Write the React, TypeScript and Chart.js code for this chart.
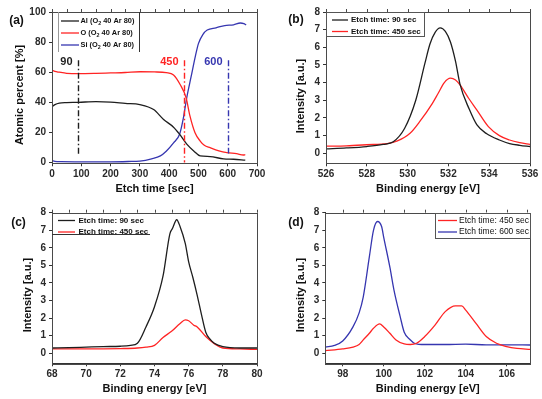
import React, { useEffect, useRef } from "react";
import { Chart, registerables } from "chart.js";

Chart.register(...registerables);

const FONT = '"Liberation Sans", Arial, Helvetica, sans-serif';
const BLACK = "#1e1e1e";
const RED = "#ff2424";
const BLUE = "#3636b0";
const AXIS = "#2a2a2a";

// ---------- (a) depth profile ----------
const etchTicks = [0, 100, 200, 300, 400, 500, 600, 700];
const percentTicks = [0, 20, 40, 60, 80, 100];
const alTime = [0, 10, 25, 50, 90, 150, 200, 250, 300, 347, 381, 415, 436, 461, 484, 506, 540, 586, 620, 660];
const alPercent = [37, 38.5, 39.5, 39.8, 40, 40.5, 40.2, 39.3, 38.5, 35.2, 28.6, 23.5, 18.7, 12.1, 7.7, 4.4, 4, 2.4, 2.2, 1.6];
const oTime = [0, 10, 25, 50, 90, 150, 200, 250, 301, 350, 390, 415, 438, 458, 471, 488, 506, 520, 540, 570, 597, 630, 654, 660];
const oPercent = [61.5, 60.5, 60, 59.3, 59, 59.2, 59.5, 59.8, 60.3, 60.2, 59.7, 58.2, 51.7, 43, 31, 20, 14.3, 11.5, 9.9, 7.8, 6.6, 5.9, 5, 5.2];
const siTime = [0, 10, 30, 100, 200, 260, 300, 340, 370, 390, 415, 436, 448, 460, 475, 490, 500, 515, 530, 560, 590, 620, 643, 655, 663];
const siPercent = [1.2, 0.8, 0.6, 0.5, 0.5, 0.7, 1, 2.5, 4.4, 7.5, 13, 19, 29, 43, 57, 71, 79, 85, 88, 89.5, 91, 91.5, 92.7, 92.3, 91.4];
const markerTimes = [90, 450, 600];
const markerLabels = ["90", "450", "600"];
const markerBottoms = [5.5, 0, 6];
const markerTop = 68;
const markerLabelLevel = 67;

// ---------- (b) O 1s ----------
const o1sTicks = [526, 528, 530, 532, 534, 536];
const intensityTicks = [0, 1, 2, 3, 4, 5, 6, 7, 8];
const o1sEnergy90 = [526, 527, 528, 528.8, 529.3, 529.85, 530.4, 530.85, 531.1, 531.35, 531.6, 531.85, 532.1, 532.35, 532.57, 533.02, 533.4, 533.88, 534.5, 535, 535.5, 536];
const o1sCounts90 = [0.25, 0.3, 0.38, 0.5, 0.65, 1.4, 3.0, 5.1, 6.2, 6.85, 7.1, 6.9, 6.3, 5.2, 3.9, 2.5, 1.6, 1.1, 0.75, 0.55, 0.45, 0.38];
const o1sEnergy450 = [526, 527, 528, 529, 529.5, 530.12, 530.6, 531.2, 531.5, 531.8, 532.1, 532.35, 532.57, 533, 533.39, 533.96, 534.5, 535, 535.5, 536];
const o1sCounts450 = [0.4, 0.42, 0.48, 0.55, 0.7, 1.13, 1.8, 2.8, 3.4, 4.0, 4.25, 4.15, 3.87, 3.1, 2.46, 1.51, 1.0, 0.75, 0.6, 0.5];

// ---------- (c) Al 2p ----------
const al2pTicks = [68, 70, 72, 74, 76, 78, 80];
const al2pEnergy90 = [68, 69, 70, 71, 72, 72.6, 73, 73.5, 74, 74.5, 74.9, 75.05, 75.3, 75.5, 75.8, 76, 76.25, 76.5, 76.75, 77, 77.25, 77.5, 78, 79, 80];
const al2pCounts90 = [0.3, 0.32, 0.35, 0.38, 0.4, 0.45, 0.57, 1.5, 2.65, 4.4, 6.8, 7.1, 7.6, 7.2, 6.25, 5.2, 4.3, 3.3, 2.2, 1.2, 0.8, 0.57, 0.38, 0.3, 0.3];
const al2pEnergy450 = [68, 70, 72, 73, 73.5, 74, 74.5, 75, 75.5, 75.8, 76, 76.3, 76.5, 77, 77.5, 78, 79, 80];
const al2pCounts450 = [0.25, 0.25, 0.27, 0.3, 0.35, 0.45, 0.9, 1.25, 1.7, 1.9, 1.85, 1.6, 1.5, 0.95, 0.55, 0.3, 0.25, 0.22];

// ---------- (d) Si 2p ----------
const si2pTicks = [98, 100, 102, 104, 106];
const si2pEnergy450 = [97.15, 98, 98.5, 98.8, 99, 99.3, 99.5, 99.8, 100, 100.3, 100.6, 101, 101.3, 101.6, 102, 102.5, 103, 103.5, 103.8, 104, 104.5, 105, 105.5, 106, 106.5, 107.15];
const si2pCounts450 = [0.15, 0.25, 0.35, 0.5, 0.76, 1.14, 1.42, 1.67, 1.5, 1.14, 0.76, 0.53, 0.5, 0.57, 0.95, 1.6, 2.37, 2.7, 2.7, 2.46, 1.7, 0.95, 0.57, 0.38, 0.28, 0.22];
const si2pEnergy600 = [97.15, 97.6, 98, 98.5, 98.8, 99, 99.3, 99.5, 99.7, 99.9, 100, 100.3, 100.5, 100.8, 101, 101.3, 101.5, 102, 103, 104, 105, 106, 107.15];
const si2pCounts600 = [0.35, 0.45, 0.7, 1.5, 2.3, 3.2, 5.5, 7.0, 7.5, 7.2, 6.6, 4.9, 3.6, 2.1, 1.2, 0.76, 0.57, 0.5, 0.5, 0.52, 0.48, 0.48, 0.47];

interface SeriesCfg { parts: string[]; xs: number[]; ys: number[]; color: string }
interface LegendCfg {
  x0: number; x1: number; y0: number; y1: number; rows: number[];
  lineX0: number; lineX1: number; textX: number; size: number; weight: string;
  style: "sides" | "box" | "underline";
}
interface PanelCfg {
  tag: string; left: number; top: number; width: number; height: number;
  area: { l: number; r: number; t: number; b: number };
  xMin: number; xMax: number; yMin: number; yMax: number;
  xTicks: number[]; yTicks: number[];
  xTitle: string; yTitle: string; yTitleAt: [number, number]; tagAt: [number, number];
  xTitlePad: number;
  series: SeriesCfg[];
  legend: LegendCfg;
  markers?: boolean;
}

const panels: PanelCfg[] = [
  {
    tag: "(a)", left: 0, top: 0, width: 271, height: 200,
    area: { l: 52, r: 257, t: 12, b: 163.3 },
    xMin: 0, xMax: 700, yMin: -0.5, yMax: 100,
    xTicks: etchTicks, yTicks: percentTicks,
    xTitle: "Etch time [sec]", yTitle: "Atomic percent [%]", yTitleAt: [19.5, 95], tagAt: [16.5, 21],
    xTitlePad: 4.4,
    series: [
      { parts: ["Al (O", "2", " 40 Ar 80)"], xs: alTime, ys: alPercent, color: BLACK },
      { parts: ["O (O", "2", " 40 Ar 80)"], xs: oTime, ys: oPercent, color: RED },
      { parts: ["Si (O", "2", " 40 Ar 80)"], xs: siTime, ys: siPercent, color: BLUE },
    ],
    legend: { x0: 57.5, x1: 139, y0: 12, y1: 52, rows: [21, 33, 45], lineX0: 61, lineX1: 79, textX: 80.5, size: 7.4, weight: "bold", style: "sides" },
    markers: true,
  },
  {
    tag: "(b)", left: 271, top: 0, width: 271, height: 200,
    area: { l: 55, r: 259, t: 12, b: 163.3 },
    xMin: 526, xMax: 536, yMin: -0.57, yMax: 8,
    xTicks: o1sTicks, yTicks: intensityTicks,
    xTitle: "Binding energy [eV]", yTitle: "Intensity [a.u.]", yTitleAt: [30, 96], tagAt: [25, 20],
    xTitlePad: 4.4,
    series: [
      { parts: ["Etch time: 90 sec"], xs: o1sEnergy90, ys: o1sCounts90, color: BLACK },
      { parts: ["Etch time: 450 sec"], xs: o1sEnergy450, ys: o1sCounts450, color: RED },
    ],
    legend: { x0: 55, x1: 153, y0: 12, y1: 36, rows: [20, 31.5], lineX0: 61, lineX1: 77, textX: 80, size: 8, weight: "bold", style: "box" },
  },
  {
    tag: "(c)", left: 0, top: 200, width: 271, height: 199,
    area: { l: 52, r: 257, t: 12.7, b: 163.3 },
    xMin: 68, xMax: 80, yMin: -0.57, yMax: 8,
    xTicks: al2pTicks, yTicks: intensityTicks,
    xTitle: "Binding energy [eV]", yTitle: "Intensity [a.u.]", yTitleAt: [28, 95], tagAt: [18.5, 23],
    xTitlePad: 3.4,
    series: [
      { parts: ["Etch time: 90 sec"], xs: al2pEnergy90, ys: al2pCounts90, color: BLACK },
      { parts: ["Etch time: 450 sec"], xs: al2pEnergy450, ys: al2pCounts450, color: RED },
    ],
    legend: { x0: 52, x1: 150, y0: 12.7, y1: 34.5, rows: [20.5, 32], lineX0: 58, lineX1: 75, textX: 78.5, size: 8, weight: "bold", style: "underline" },
  },
  {
    tag: "(d)", left: 271, top: 200, width: 271, height: 199,
    area: { l: 54.3, r: 259.3, t: 12.7, b: 163.3 },
    xMin: 97.15, xMax: 107.15, yMin: -0.57, yMax: 8,
    xTicks: si2pTicks, yTicks: intensityTicks,
    xTitle: "Binding energy [eV]", yTitle: "Intensity [a.u.]", yTitleAt: [30, 95], tagAt: [25, 23],
    xTitlePad: 3.4,
    series: [
      { parts: ["Etch time: 450 sec"], xs: si2pEnergy450, ys: si2pCounts450, color: RED },
      { parts: ["Etch time: 600 sec"], xs: si2pEnergy600, ys: si2pCounts600, color: BLUE },
    ],
    legend: { x0: 164, x1: 259.3, y0: 12.7, y1: 38, rows: [20.5, 32], lineX0: 167, lineX1: 186, textX: 188, size: 8.5, weight: "normal", style: "box" },
  },
];

function drawParts(ctx: CanvasRenderingContext2D, parts: string[], x: number, y: number, size: number, weight: string) {
  let cx = x;
  parts.forEach((p, i) => {
    const sub = i % 2 === 1;
    const s = sub ? size * 0.72 : size;
    ctx.font = `${weight} ${s}px ${FONT}`;
    ctx.fillText(p, cx, sub ? y + size * 0.3 : y);
    cx += ctx.measureText(p).width;
  });
}

function makeDecor(cfg: PanelCfg) {
  return {
    id: "decor" + cfg.tag,
    afterDatasetsDraw(chart: any) {
      const ctx: CanvasRenderingContext2D = chart.ctx;
      const { left, right, top, bottom } = chart.chartArea;
      const xs = chart.scales.x;
      const ys = chart.scales.y;
      ctx.save();

      // markers (panel a)
      if (cfg.markers) {
        const colors = [BLACK, RED, BLUE];
        markerTimes.forEach((t, i) => {
          const px = Math.round(xs.getPixelForValue(t)) + 0.5;
          ctx.strokeStyle = colors[i];
          ctx.lineWidth = 1.4;
          ctx.setLineDash([6, 2.5, 1.5, 2.5]);
          ctx.beginPath();
          ctx.moveTo(px, ys.getPixelForValue(markerTop));
          ctx.lineTo(px, ys.getPixelForValue(markerBottoms[i]));
          ctx.stroke();
          ctx.setLineDash([]);
          ctx.fillStyle = colors[i];
          ctx.font = `bold 11px ${FONT}`;
          ctx.textAlign = "right";
          ctx.textBaseline = "middle";
          ctx.fillText(markerLabels[i], px - 6, ys.getPixelForValue(markerLabelLevel));
        });
      }

      // frame
      ctx.strokeStyle = "#4a4a4a";
      ctx.lineWidth = 1;
      ctx.strokeRect(Math.round(left) + 0.5, Math.round(top) + 0.5, Math.round(right - left), Math.round(bottom - top));

      // top ticks (major and half positions)
      const tks = cfg.xTicks;
      const step = tks[1] - tks[0];
      const topVals: number[] = [];
      tks.forEach((v) => { topVals.push(v); topVals.push(v + step / 2); });
      ctx.beginPath();
      topVals.forEach((v) => {
        if (v < cfg.xMin || v > cfg.xMax) return;
        const px = Math.round(xs.getPixelForValue(v)) + 0.5;
        ctx.moveTo(px, top);
        ctx.lineTo(px, top - 3);
      });
      ctx.stroke();

      // legend
      const lg = cfg.legend;
      if (lg.style === "box") {
        ctx.fillStyle = "#fff";
        ctx.fillRect(lg.x0, lg.y0, lg.x1 - lg.x0, lg.y1 - lg.y0);
        ctx.strokeStyle = "#555";
        ctx.strokeRect(Math.round(lg.x0) + 0.5, Math.round(lg.y0) + 0.5, Math.round(lg.x1 - lg.x0), Math.round(lg.y1 - lg.y0));
      } else if (lg.style === "sides") {
        ctx.strokeStyle = "#999";
        ctx.beginPath();
        ctx.moveTo(Math.round(lg.x0) + 0.5, lg.y0);
        ctx.lineTo(Math.round(lg.x0) + 0.5, lg.y1);
        ctx.stroke();
        ctx.strokeStyle = "#333";
        ctx.beginPath();
        ctx.moveTo(Math.round(lg.x1) + 0.5, lg.y0);
        ctx.lineTo(Math.round(lg.x1) + 0.5, lg.y1);
        ctx.stroke();
      } else {
        ctx.strokeStyle = "#333";
        ctx.lineWidth = 1.2;
        ctx.beginPath();
        ctx.moveTo(lg.x0, lg.y1);
        ctx.lineTo(lg.x1, lg.y1);
        ctx.stroke();
      }
      cfg.series.forEach((s, i) => {
        const y = lg.rows[i];
        ctx.strokeStyle = s.color;
        ctx.lineWidth = 1.3;
        ctx.beginPath();
        ctx.moveTo(lg.lineX0, y);
        ctx.lineTo(lg.lineX1, y);
        ctx.stroke();
        ctx.fillStyle = "#111";
        ctx.textAlign = "left";
        ctx.textBaseline = "middle";
        drawParts(ctx, s.parts, lg.textX, y, lg.size, lg.weight);
      });

      // y title
      ctx.save();
      ctx.translate(cfg.yTitleAt[0], cfg.yTitleAt[1]);
      ctx.rotate(-Math.PI / 2);
      ctx.fillStyle = "#111";
      ctx.font = `bold 11px ${FONT}`;
      ctx.textAlign = "center";
      ctx.textBaseline = "middle";
      ctx.fillText(cfg.yTitle, 0, 0);
      ctx.restore();

      // panel tag
      ctx.fillStyle = "#111";
      ctx.font = `bold 12px ${FONT}`;
      ctx.textAlign = "center";
      ctx.textBaseline = "middle";
      ctx.fillText(cfg.tag, cfg.tagAt[0], cfg.tagAt[1]);

      ctx.restore();
    },
  };
}

function Panel({ cfg }: { cfg: PanelCfg }) {
  const ref = useRef<HTMLCanvasElement | null>(null);
  useEffect(() => {
    if (!ref.current) return;
    const tickFont = { family: FONT, size: 10, weight: "bold" as const };
    const chart = new Chart(ref.current, {
      type: "line",
      data: {
        datasets: cfg.series.map((s) => ({
          label: s.parts.join(""),
          data: s.xs.map((x, i) => ({ x, y: s.ys[i] })),
          borderColor: s.color,
          borderWidth: 1.3,
          pointRadius: 0,
          fill: false,
          cubicInterpolationMode: "monotone" as const,
        })),
      },
      options: {
        animation: false,
        responsive: false,
        maintainAspectRatio: false,
        events: [],
        layout: { padding: { left: 0, top: cfg.area.t, right: cfg.width - cfg.area.r, bottom: 0 } },
        plugins: { legend: { display: false }, tooltip: { enabled: false } },
        scales: {
          x: {
            type: "linear",
            min: cfg.xMin,
            max: cfg.xMax,
            afterBuildTicks: (s: any) => { s.ticks = cfg.xTicks.map((v) => ({ value: v })); },
            afterFit: (s: any) => { s.height = cfg.height - cfg.area.b; },
            grid: { drawOnChartArea: false, drawTicks: true, tickLength: 3, color: "#333" },
            border: { display: true, color: "#333", width: 1 },
            ticks: { padding: 2, color: AXIS, font: tickFont, maxRotation: 0, autoSkip: false },
            title: {
              display: true, text: cfg.xTitle, color: "#111",
              font: { family: FONT, size: 11, weight: "bold" },
              padding: { top: 0, bottom: cfg.xTitlePad },
            },
          },
          y: {
            type: "linear",
            min: cfg.yMin,
            max: cfg.yMax,
            afterBuildTicks: (s: any) => { s.ticks = cfg.yTicks.map((v) => ({ value: v })); },
            afterFit: (s: any) => { s.width = cfg.area.l; },
            grid: { drawOnChartArea: false, drawTicks: true, tickLength: 3, color: "#333" },
            border: { display: true, color: "#333", width: 1 },
            ticks: { padding: 3, color: AXIS, font: tickFont, autoSkip: false },
          },
        },
      } as any,
      plugins: [makeDecor(cfg)],
    });
    return () => chart.destroy();
  }, [cfg]);
  return (
    <canvas
      ref={ref}
      width={cfg.width}
      height={cfg.height}
      style={{ position: "absolute", left: cfg.left, top: cfg.top, width: cfg.width, height: cfg.height }}
    />
  );
}

export default function App() {
  return (
    <div style={{ position: "fixed", left: 0, top: 0, width: 542, height: 399, background: "#fff", overflow: "hidden" }}>
      {panels.map((p) => (
        <Panel key={p.tag} cfg={p} />
      ))}
    </div>
  );
}
